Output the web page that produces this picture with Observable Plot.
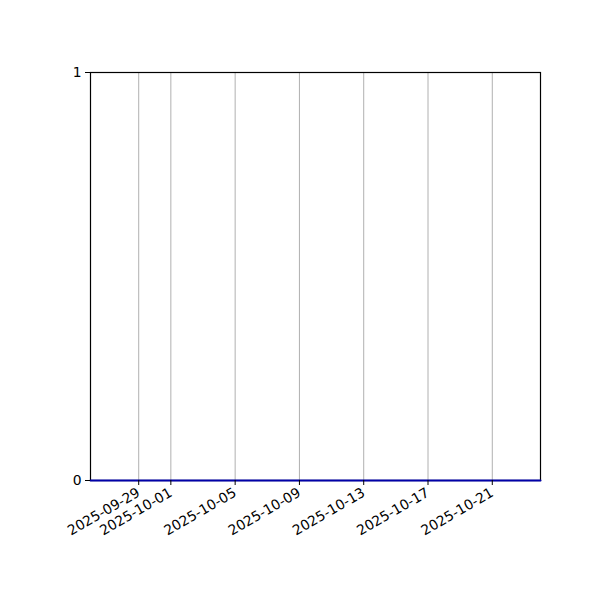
<!DOCTYPE html>
<html>
<head>
<meta charset="utf-8">
<script src="https://cdn.jsdelivr.net/npm/d3@7"></script>
<script src="https://cdn.jsdelivr.net/npm/@observablehq/plot@0.6"></script>
<style>
  html, body { margin: 0; padding: 0; background: #fff; }
  #chart svg { display: block; }
  #chart svg text { font-family: "DejaVu Sans", sans-serif; font-size: 13.9px; }
</style>
</head>
<body>
<div id="chart"></div>
<script>
const dates = [
  "2025-09-26","2025-09-27","2025-09-28","2025-09-29","2025-09-30",
  "2025-10-01","2025-10-02","2025-10-03","2025-10-04","2025-10-05",
  "2025-10-06","2025-10-07","2025-10-08","2025-10-09","2025-10-10",
  "2025-10-11","2025-10-12","2025-10-13","2025-10-14","2025-10-15",
  "2025-10-16","2025-10-17","2025-10-18","2025-10-19","2025-10-20",
  "2025-10-21","2025-10-22","2025-10-23","2025-10-24"
];
const values = [
  0,0,0,0,0, 0,0,0,0,0, 0,0,0,0,0, 0,0,0,0,0, 0,0,0,0,0, 0,0,0,0
];
const xTickLabels = ["2025-09-29","2025-10-01","2025-10-05","2025-10-09","2025-10-13","2025-10-17","2025-10-21"];
const yTicks = [0, 1];

const data = dates.map((d, i) => ({date: new Date(d + "T00:00:00Z"), value: values[i]}));
const xTicks = xTickLabels.map(d => new Date(d + "T00:00:00Z"));

const chart = Plot.plot({
  width: 600,
  height: 600,
  marginLeft: 90,
  marginRight: 60,
  marginTop: 72,
  marginBottom: 120,
  style: {fontFamily: "DejaVu Sans", fontSize: "13.9px", color: "#000", background: "#fff"},
  x: {type: "utc", domain: [data[0].date, data[data.length - 1].date]},
  y: {domain: [0, 1]},
  marks: [
    Plot.ruleX(xTicks, {stroke: "#b0b0b0", strokeWidth: 1, strokeOpacity: 1}),
    Plot.frame({stroke: "#000", strokeWidth: 1.2}),
    Plot.line(data, {x: "date", y: "value", stroke: "#0000a8", strokeWidth: 2}),
    Plot.axisX({ticks: xTicks, tickFormat: d3.utcFormat("%Y-%m-%d"), tickRotate: -30, tickSize: 5, tickPadding: 6, stroke: "#000", strokeOpacity: 1, label: null, fill: "#000"}),
    Plot.axisY({ticks: yTicks, tickFormat: d3.format("d"), tickSize: 5, tickPadding: 4, stroke: "#000", strokeOpacity: 1, label: null, fill: "#000"})
  ]
});
document.getElementById("chart").appendChild(chart);
</script>
</body>
</html>
